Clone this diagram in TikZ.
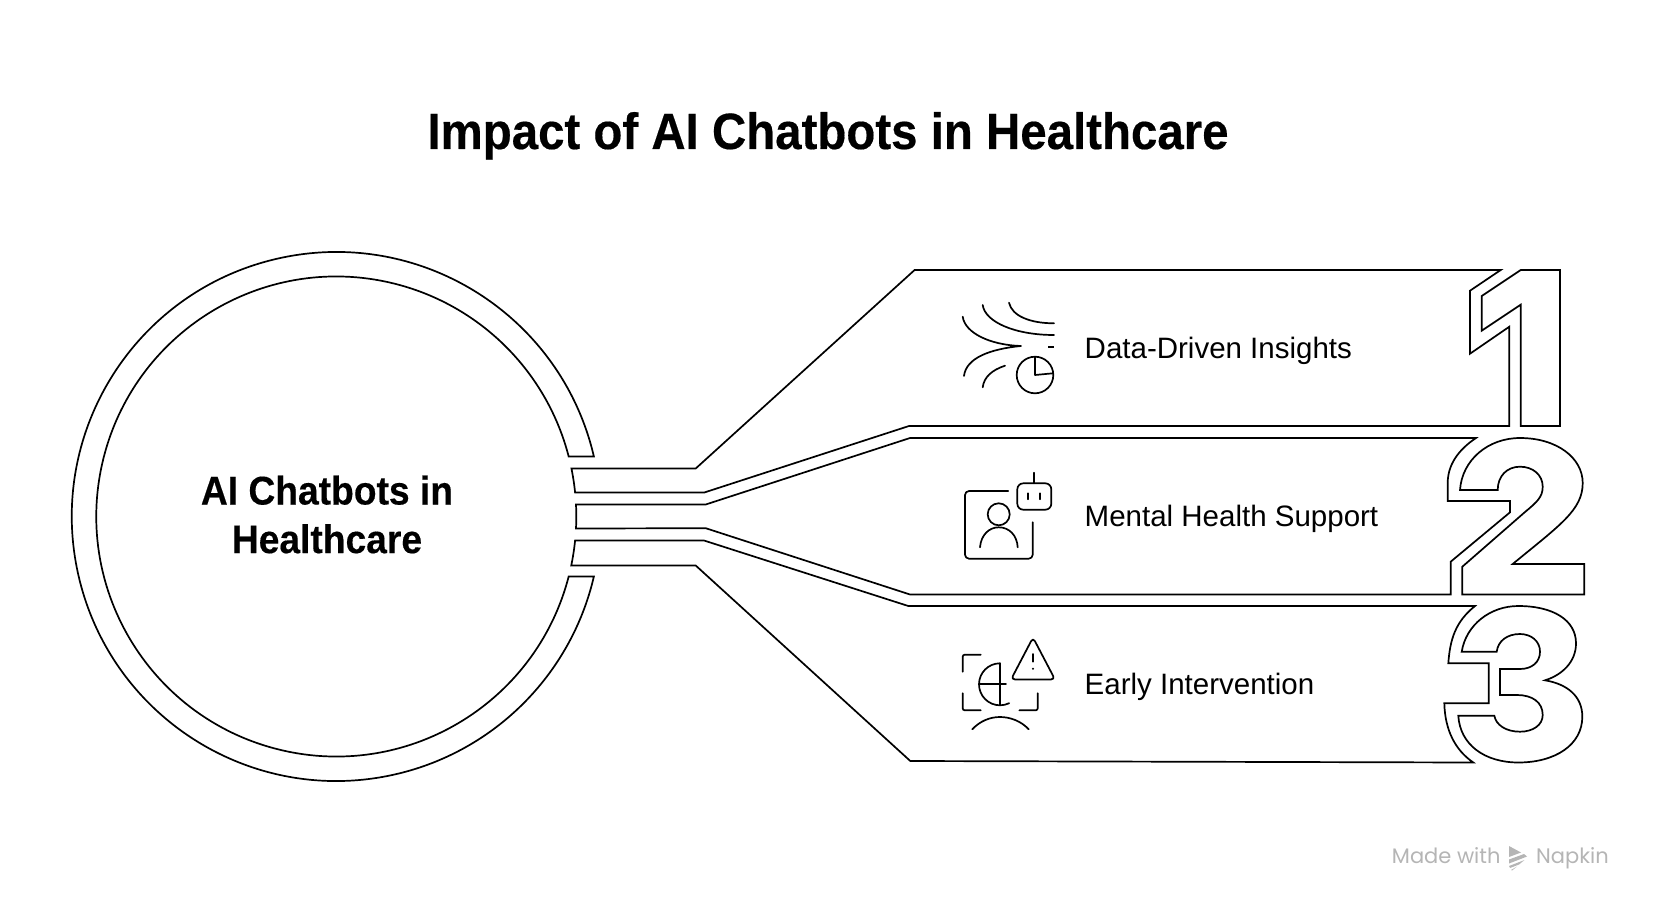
\documentclass[tikz,border=0pt]{standalone}
\usepackage{xcolor}
\usepackage{fontspec}
\setmainfont{Liberation Sans}
\newfontfamily\headfont[FakeStretch=0.93, FakeBold=0.35]{Liberation Sans Bold}
\newfontfamily\footfont{Poppins}
\usepackage{tikz}
\definecolor{footgray}{HTML}{B5B5B5}

\begin{document}
\begin{tikzpicture}[
		x=1pt, y=-1pt,
		outline/.style={draw=black, line width=1.7pt, line join=miter},
		glyph/.style={draw=black, line width=1.7pt, line cap=round, line join=round},
		titletext/.style={font=\headfont\fontsize{51}{60}\selectfont, text=black, inner sep=0pt, anchor=base},
		hubtext/.style={font=\headfont\fontsize{40}{48.6}\selectfont, text=black, align=center, inner sep=0pt},
		itemlabel/.style={font=\fontsize{29.5}{35}\selectfont, text=black, anchor=west, inner sep=0pt},
		foottext/.style={font=\footfont\fontsize{21}{25}\selectfont, text=footgray, anchor=base west, inner sep=0pt},
	]

	\useasboundingbox (0,0) rectangle (1656,912);
	\coordinate (hub) at (336.3,516.5);

	\node[titletext] (title) at (828,149) {Impact of AI Chatbots in Healthcare};
	\node[hubtext] (hublabel) at (327,514.5) {AI Chatbots in\\Healthcare};
	\node[itemlabel] (insights) at (1084.5,350.6) {Data-Driven Insights};
	\node[itemlabel] (support) at (1084.5,519.3) {Mental Health Support};
	\node[itemlabel] (early) at (1084.5,687) {Early Intervention};

	\draw[outline] ([shift={(-13.11:264.5)}]hub) arc[start angle=-13.11, end angle=-346.89, radius=264.5]
		-- ([shift={(14.48:240)}]hub) arc[start angle=14.48, end angle=345.52, radius=240] -- cycle;

	\draw[outline] ([shift={(-11.54:240)}]hub) arc[start angle=-11.54, end angle=-5.74, radius=240]
		-- (704.3,492.5) -- (909,426) -- (1509.3,426) -- (1509.3,326.7) -- (1470,353.7) -- (1470,290.7)
		-- (1500.7,270) -- (914.6,270) -- (695.7,468.5) -- cycle;
	\draw[outline] (1520.7,270) -- (1560,270) -- (1560,426) -- (1520.7,426) -- (1520.7,304.7)
		-- (1481.7,330.7) -- (1481.7,296) -- cycle;

	\draw[outline] ([shift={(-2.87:240)}]hub) arc[start angle=-2.87, end angle=2.87, radius=240]
		-- (705.7,528.2) -- (910,594.5) -- (1450.7,594.5) -- (1450.7,561.7) -- (1510,512.3) -- (1510,501)
		-- (1447.7,501) -- (1447.7,483) .. controls (1447.7,465) and (1458,450) .. (1476,438)
		-- (910,438) -- (705.7,504.5) -- cycle;
	\draw[outline] (1460,490) .. controls (1462,460) and (1488,438) .. (1520,438)
		.. controls (1557,438) and (1582.7,458) .. (1582.7,483)
		.. controls (1582.7,510) and (1560,525) .. (1512.7,564) -- (1584.3,564) -- (1584.3,594.5)
		-- (1462.3,594.5) -- (1462.3,566.7) -- (1525,512)
		.. controls (1537,502) and (1542.7,497) .. (1542.7,486.7)
		.. controls (1542.7,475) and (1533,466.7) .. (1520,466.7)
		.. controls (1507,466.7) and (1497.7,476) .. (1497.7,490) -- cycle;

	\draw[outline] ([shift={(5.74:240)}]hub) arc[start angle=5.74, end angle=11.78, radius=240]
		-- (695.7,565.5) -- (910.3,761) -- (1473.3,762.5) .. controls (1455,750) and (1445,730) .. (1444.3,703.3)
		-- (1488.7,703.3) -- (1488.7,663.3) -- (1448.3,663.3) .. controls (1450,640) and (1455,622) .. (1475,606)
		-- (908.3,606) -- (704,540.5) -- cycle;
	\draw[outline] (1461.7,651.7) .. controls (1466,625) and (1490,606) .. (1518.3,606)
		.. controls (1553,606) and (1576,620) .. (1576,643.3)
		.. controls (1576,662) and (1562,675) .. (1545,680.3)
		.. controls (1567,684) and (1582.3,696) .. (1582.3,716.7)
		.. controls (1582.3,745) and (1555,762.5) .. (1518.3,762.5)
		.. controls (1485,762.5) and (1460,745) .. (1458.3,715.7) -- (1494.3,715.7)
		.. controls (1496,725) and (1506,731.7) .. (1520,731.7)
		.. controls (1533,731.7) and (1542.7,725) .. (1542.7,715)
		.. controls (1542.7,702) and (1532,695) .. (1517,695) -- (1500,695) -- (1500,669) -- (1520,669)
		.. controls (1532,669) and (1540,662) .. (1540,651.7)
		.. controls (1540,641) and (1531,634) .. (1520,634)
		.. controls (1507,634) and (1498,641) .. (1496.7,651.7) -- cycle;

	\draw[glyph] (1009,302.7) .. controls (1012,316) and (1030,323.3) .. (1054,323.3);
	\draw[glyph] (982.7,305) .. controls (985,322) and (1015,335) .. (1054,335);
	\draw[glyph] (962.7,316.7) .. controls (965,333) and (990,345) .. (1021,346)
		.. controls (990,349) and (966,358) .. (964,376);
	\draw[glyph] (1005,365.7) .. controls (992,370) and (984,377) .. (982.7,387.3);
	\draw[glyph, line cap=butt] (1048.3,347) -- (1054,347);
	\draw[glyph] (1035,375) circle[radius=18.3];
	\draw[glyph] (1035,357) -- (1035,375) -- (1053,373.3);

	\draw[glyph] (1008.3,491) -- (969,491) arc[start angle=-90, end angle=-180, radius=4] -- (965,554.7)
		arc[start angle=180, end angle=90, radius=4] -- (1028.7,558.7)
		arc[start angle=90, end angle=0, radius=4] -- (1032.7,522.3);
	\draw[glyph] (998.7,514.3) circle[radius=11];
	\draw[glyph] (980,547.3) .. controls (981,535) and (989,527.3) .. (998.7,527.3) .. controls (1009,527.3) and (1017,535) .. (1017.7,547.3);
	\draw[glyph, rounded corners=6pt] (1017.3,483.3) rectangle (1051.3,509.7);
	\draw[glyph] (1034,472.7) -- (1034,483.3);
	\draw[glyph] (1028,493.3) -- (1028,499.3);
	\draw[glyph] (1040,493.3) -- (1040,499.3);

	\draw[glyph, rounded corners=2pt] (962.7,671.7) -- (962.7,654.7) -- (980.7,654.7);
	\draw[glyph, rounded corners=2pt] (962.7,693.3) -- (962.7,710.3) -- (980.7,710.3);
	\draw[glyph, rounded corners=2pt] (1019.3,710.3) -- (1037.7,710.3) -- (1037.7,693.3);
	\draw[glyph] (1000,663.3) arc[start angle=-90, end angle=-296, radius=21];
	\draw[glyph] (1000,663.3) -- (1000,705.3);
	\draw[glyph] (979.3,684) -- (1006,684);
	\draw[glyph] (972.3,729.3) .. controls (980,721) and (990,717) .. (1000,717) .. controls (1010,717) and (1021,721) .. (1028.7,729.3);
	\draw[glyph, rounded corners=4pt] (1033,637.5) -- (1011,679.5) -- (1055,679.5) -- cycle;
	\draw[glyph] (1033,654) -- (1033,661.7);
	\fill (1033,668.7) circle[radius=1.1];

	\node[foottext] (made) at (1391.7,863) {Made with};
	\node[foottext] (napkin) at (1536,863) {Napkin};
	\fill[footgray] (1509,846) -- (1521,852.5) -- (1509,857) -- cycle;
	\fill[footgray] (1509,859.5) -- (1524,854) -- (1527,856.5) -- (1509,863.5) -- cycle;
	\fill[footgray] (1509,866) -- (1524.5,860) -- (1519,864.5) -- (1510,868) -- cycle;
	\fill[footgray] (1511,870) -- (1517,866.5) -- (1512,870.5) -- cycle;

\end{tikzpicture}
\end{document}
